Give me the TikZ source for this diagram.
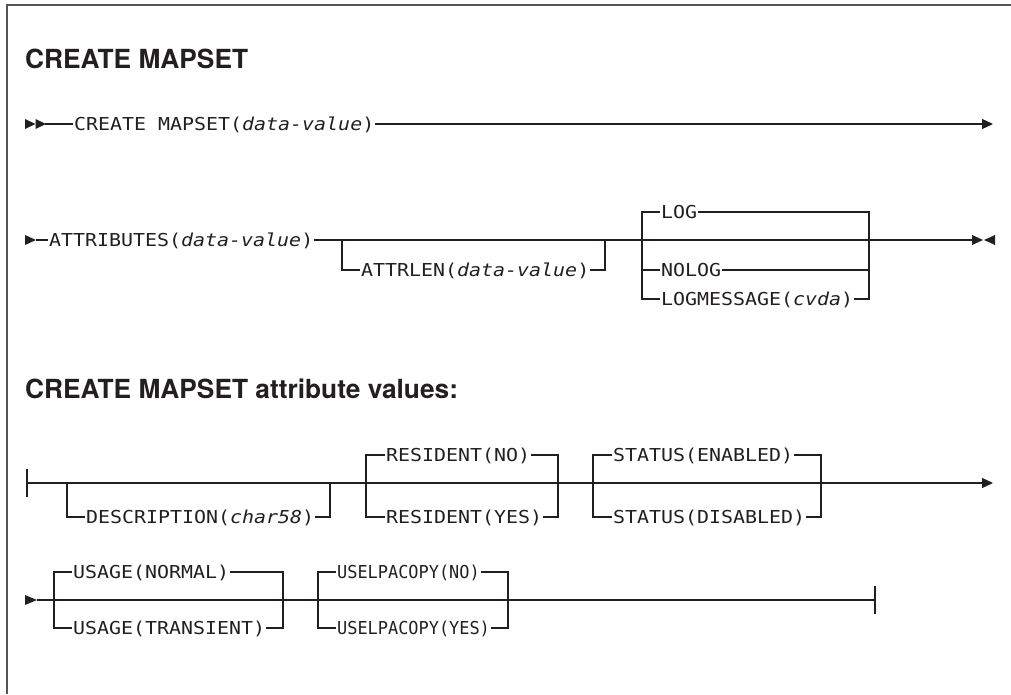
\documentclass[tikz,border=0pt]{standalone}
\usepackage{fontspec}
\setsansfont{TeX Gyre Heros}
\setmonofont[FakeStretch=1.12]{DejaVu Sans Mono}
\newfontfamily\slimmono[FakeStretch=0.95]{DejaVu Sans Mono}
\usetikzlibrary{arrows.meta}
\definecolor{ink}{HTML}{231F20}
\definecolor{framegray}{HTML}{555555}

\tikzset{
  rail/.style={draw=ink, line width=1.1pt},
  railend/.style={rail, -{Triangle[length=11pt,width=10pt]}},
  kw/.style={anchor=west, inner xsep=1pt, inner ysep=0pt, text height=13pt,
    text depth=0pt, text=ink, font=\fontsize{17.8}{18}\selectfont\ttfamily},
  kwslim/.style={kw, font=\fontsize{17.8}{18}\selectfont\slimmono},
  heading/.style={anchor=base west, inner sep=0pt, text=ink,
    font=\fontsize{26.3}{28}\selectfont\sffamily\bfseries},
}

\begin{document}
\begin{tikzpicture}[x=1pt,y=-1pt]
  \useasboundingbox (0,0) rectangle (1011,694);
  \draw[framegray, line width=1.5pt] (7,694) -- (7,5) -- (1011,5);

  \begin{scope}[every node/.style=heading]
    \node (h1) at (25,68)  {CREATE MAPSET};
    \node (h2) at (25,398) {CREATE MAPSET attribute values:};
  \end{scope}

  \begin{scope}[every node/.style=kw]
    \node (cm) at (73,124)  {CREATE MAPSET(\textit{data-value})};
    \node (at) at (48,240)  {ATTRIBUTES(\textit{data-value})};
    \node (al) at (360,270) {ATTRLEN(\textit{data-value})};
    \node (lg) at (660,212) {LOG};
    \node (nl) at (660,270) {NOLOG};
    \node (lm) at (660,299) {LOGMESSAGE(\textit{cvda})};
    \node (de) at (85,517)  {DESCRIPTION(\textit{char58})};
    \node (rn) at (385,455) {RESIDENT(NO)};
    \node (ry) at (385,517) {RESIDENT(YES)};
    \node (se) at (612,455) {STATUS(ENABLED)};
    \node (sd) at (612,517) {STATUS(DISABLED)};
    \node (un) at (72,572)  {USAGE(NORMAL)};
    \node (ut) at (72,628)  {USAGE(TRANSIENT)};
  \end{scope}

  \begin{scope}[every node/.style=kwslim]
    \node (pn) at (336,572) {USELPACOPY(NO)};
    \node (py) at (336,628) {USELPACOPY(YES)};
  \end{scope}

  \coordinate (s1) at (45,124);
  \coordinate (e1) at (993,124);
  \coordinate (s2) at (36,240);
  \coordinate (b1) at (342,240);
  \coordinate (b2) at (605,240);
  \coordinate (g1) at (642,240);
  \coordinate (g2) at (869,240);
  \coordinate (e2) at (972,240);
  \coordinate (s3) at (27,483);
  \coordinate (d1) at (67,483);
  \coordinate (d2) at (330,483);
  \coordinate (r1) at (366,483);
  \coordinate (r2) at (558,483);
  \coordinate (t1) at (593,483);
  \coordinate (t2) at (821,483);
  \coordinate (e3) at (993,483);
  \coordinate (s4) at (37,600);
  \coordinate (u1) at (54,600);
  \coordinate (u2) at (283,600);
  \coordinate (c1) at (318,600);
  \coordinate (c2) at (508,600);
  \coordinate (e4) at (875,600);

  \fill[ink] (25,119) -- (35.5,124) -- (25,129) -- cycle;
  \fill[ink] (35.5,119) -- (46,124) -- (35.5,129) -- cycle;
  \draw[rail] (s1) -- (cm);
  \draw[railend] (cm) -- (e1);

  \fill[ink] (25,235) -- (36,240) -- (25,245) -- cycle;
  \draw[rail] (s2) -- (at);
  \draw[rail] (at) -- (e2);
  \draw[rail] (b1) |- (al) -| (b2);
  \draw[rail] (lg) -| (g1 |- lm) -- (lm);
  \draw[rail] (lg) -| (g2 |- lm) -- (lm);
  \draw[rail] (nl) -- (nl -| g1);
  \draw[rail] (nl) -- (nl -| g2);
  \fill[ink] (972,235) -- (983,240) -- (972,245) -- cycle;
  \fill[ink] (995,235) -- (984,240) -- (995,245) -- cycle;

  \draw[rail] ([yshift=14pt]s3) -- ([yshift=-14pt]s3);
  \draw[railend] (s3) -- (e3);
  \draw[rail] (d1) |- (de) -| (d2);
  \draw[rail] (rn) -| (r1 |- ry) -- (ry);
  \draw[rail] (rn) -| (r2 |- ry) -- (ry);
  \draw[rail] (se) -| (t1 |- sd) -- (sd);
  \draw[rail] (se) -| (t2 |- sd) -- (sd);

  \fill[ink] (25,595) -- (37,600) -- (25,605) -- cycle;
  \draw[rail] (s4) -- (e4);
  \draw[rail] ([yshift=14pt]e4) -- ([yshift=-14pt]e4);
  \draw[rail] (un) -| (u1 |- ut) -- (ut);
  \draw[rail] (un) -| (u2 |- ut) -- (ut);
  \draw[rail] (pn) -| (c1 |- py) -- (py);
  \draw[rail] (pn) -| (c2 |- py) -- (py);
\end{tikzpicture}
\end{document}
